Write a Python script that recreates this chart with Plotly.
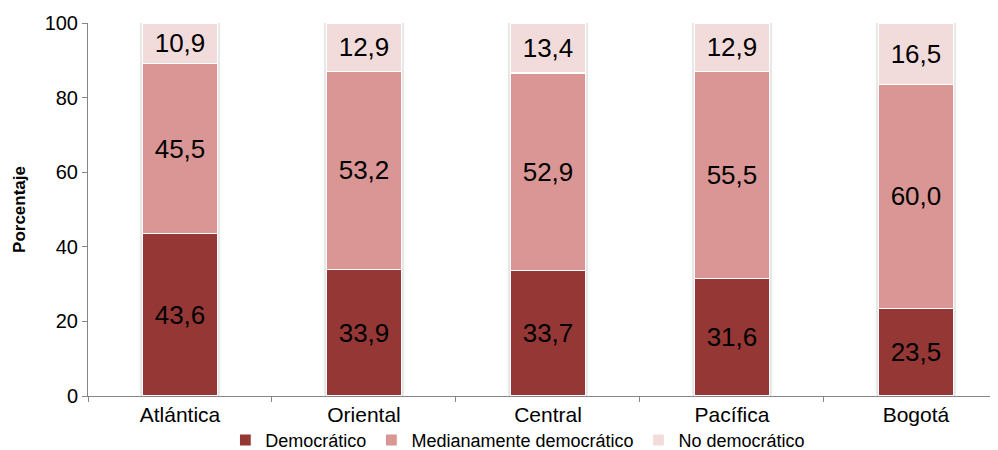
import plotly.graph_objects as go

categories = ["Atlántica", "Oriental", "Central", "Pacífica", "Bogotá"]
democratico = [43.6, 33.9, 33.7, 31.6, 23.5]
medianamente = [45.5, 53.2, 52.9, 55.5, 60.0]
no_democratico = [10.9, 12.9, 13.4, 12.9, 16.5]
y_ticks = [0, 20, 40, 60, 80, 100]

series = [
    ("Democrático", democratico, "#953735"),
    ("Medianamente democrático", medianamente, "#D99694"),
    ("No democrático", no_democratico, "#F2DCDB"),
]

totals = [a + b + c for a, b, c in zip(democratico, medianamente, no_democratico)]

FONT = "Liberation Sans, Arial, sans-serif"

fig = go.Figure()

# soft shadow behind each stacked bar (drawn on the base axis, below)
fig.add_trace(go.Bar(
    x=categories, y=totals, width=0.43,
    marker=dict(color="#E8E8E8", line=dict(width=0)),
    showlegend=False, hoverinfo="skip",
))

for name, vals, color in series:
    fig.add_trace(go.Bar(
        name=name, x=categories, y=vals, width=0.41, xaxis="x2",
        marker=dict(color=color, line=dict(color="white", width=1.2)),
        texttemplate="%{y:.1f}", textposition="inside",
        insidetextanchor="middle", constraintext="none",
        textfont=dict(size=26, color="black", family=FONT),
    ))

fig.update_layout(
    barmode="stack",
    separators=",.",
    width=990, height=442,
    margin=dict(l=80, r=0, t=15, b=54, autoexpand=False),
    paper_bgcolor="white", plot_bgcolor="white",
    font=dict(family=FONT, size=20, color="black"),
    xaxis=dict(
        type="category", categoryorder="array", categoryarray=categories,
        range=[-0.5, 4.446], showline=True, linecolor="#868686", linewidth=1,
        ticks="outside", tickson="boundaries", ticklen=5, tickcolor="#868686",
        tickfont=dict(size=21), showgrid=False, automargin=False,
    ),
    xaxis2=dict(
        type="category", categoryorder="array", categoryarray=categories,
        range=[-0.5, 4.446], overlaying="x", visible=False,
    ),
    yaxis=dict(
        range=[0, 100], tickvals=y_ticks, showline=True, linecolor="#868686",
        linewidth=1, ticks="outside", ticklen=5, tickcolor="#868686",
        showgrid=False, zeroline=False, tickfont=dict(size=20),
        automargin=False,
        title=dict(text="<b>Porcentaje</b>", font=dict(size=17), standoff=14),
    ),
    legend=dict(
        orientation="h", xref="container", yref="container",
        xanchor="center", x=0.515, yanchor="middle", y=0.022,
        font=dict(size=18), traceorder="normal",
        itemwidth=30, bgcolor="rgba(0,0,0,0)",
    ),
)

fig.write_html("out.html")
